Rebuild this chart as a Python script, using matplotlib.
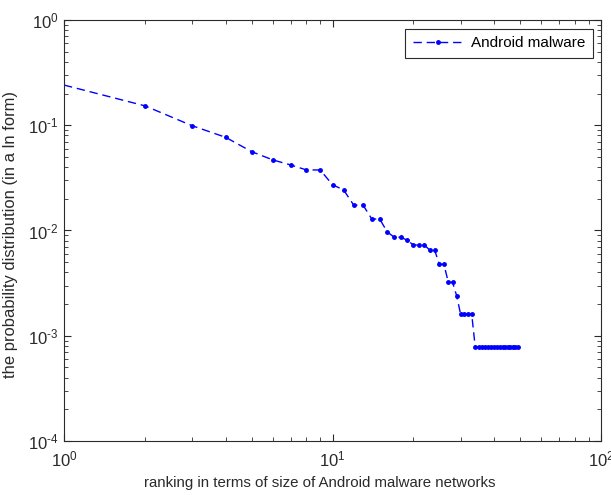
import matplotlib
matplotlib.use("Agg")
import matplotlib.pyplot as plt
from matplotlib.ticker import LogLocator, NullFormatter, FuncFormatter
import math

plt.rcParams['font.family'] = ['Liberation Sans', 'DejaVu Sans']
plt.rcParams['mathtext.fontset'] = 'custom'
plt.rcParams['mathtext.rm'] = 'Liberation Sans'
plt.rcParams['mathtext.it'] = 'Liberation Sans'

ranks = list(range(1, 50))
probs = [0.241, 0.153, 0.099, 0.0768, 0.0561, 0.0468, 0.0419, 0.0376, 0.0376, 0.0272,
         0.0243, 0.0174, 0.0174, 0.0129, 0.0128, 0.00968, 0.00862, 0.00862, 0.00807, 0.00728,
         0.00728, 0.00728, 0.00653, 0.00653, 0.00477, 0.00477, 0.00322, 0.00322, 0.0024, 0.0016,
         0.0016, 0.0016, 0.0016] + [0.000787] * 16
series_label = "Android malware"
xlabel = "ranking in terms of size of Android malware networks"
ylabel = "the probability distribution (in a ln form)"

TXT = '#2a2a2a'

def fmt(v, pos):
    e = int(round(math.log10(v)))
    if e < 0:
        return r'$10^{\text{-}%d}$' % (-e)
    return r'$10^{%d}$' % e

fig = plt.figure(figsize=(6.11, 4.95), dpi=100)
ax = fig.add_axes([64/611, 54/495, 537/611, 421/495])
ax.plot(ranks, probs, color='#0000ff', linestyle=(0, (6, 3.5)), linewidth=1.0,
        marker='.', markersize=5, markevery=list(range(1, len(ranks))), label=series_label)
ax.set_xscale('log')
ax.set_yscale('log')
ax.set_xlim(1, 100)
ax.set_ylim(1e-4, 1)
ax.xaxis.set_major_locator(LogLocator(base=10, numticks=10))
ax.yaxis.set_major_locator(LogLocator(base=10, numticks=10))
ax.xaxis.set_minor_locator(LogLocator(base=10, subs=range(2, 10), numticks=20))
ax.yaxis.set_minor_locator(LogLocator(base=10, subs=range(2, 10), numticks=20))
ax.xaxis.set_major_formatter(FuncFormatter(fmt))
ax.yaxis.set_major_formatter(FuncFormatter(fmt))
ax.xaxis.set_minor_formatter(NullFormatter())
ax.yaxis.set_minor_formatter(NullFormatter())
ax.tick_params(which='both', direction='in', top=True, right=True, labelsize=12, colors=TXT)
ax.tick_params(which='major', length=5)
ax.tick_params(which='minor', length=3)
ax.tick_params(axis='x', pad=6)
ax.tick_params(axis='y', pad=4)
for s in ax.spines.values():
    s.set_color(TXT)
ax.set_xlabel(xlabel, fontsize=10.8, color=TXT)
ax.xaxis.set_label_coords((320 - 64) / 537, -0.084)
ax.set_ylabel(ylabel, fontsize=11.9, color=TXT)
ax.yaxis.set_label_coords(-0.0857, (495 - 234.5 - 54) / 421)
leg = ax.legend(loc='upper right', fontsize=11, fancybox=False, framealpha=1,
                edgecolor=TXT, handlelength=3.3, borderpad=0.5, handletextpad=0.5,
                borderaxespad=0, bbox_to_anchor=(0.985, 0.979))
leg.get_frame().set_linewidth(0.8)
fig.savefig('out.png', dpi=100)
